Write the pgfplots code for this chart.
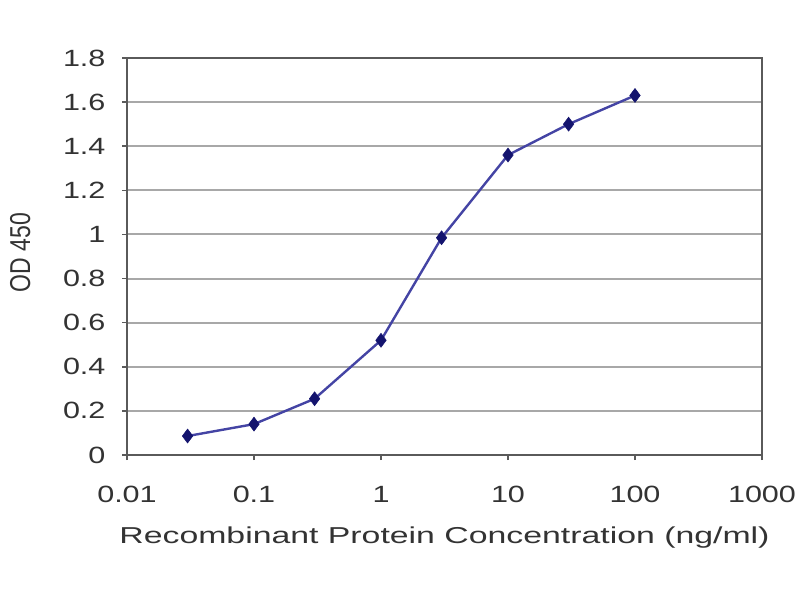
\documentclass[border=0pt]{standalone}
\usepackage{pgfplots}
\pgfplotsset{compat=1.18}
\usepackage{fontspec}
\setmainfont{Liberation Sans}[FakeStretch=1.3]
\newfontfamily\xlabfont{Liberation Sans}[FakeStretch=1.47]
\newfontfamily\ylabfont{Liberation Sans}
\definecolor{txt}{HTML}{333333}
\definecolor{gridc}{HTML}{A8A8A8}
\definecolor{axisc}{HTML}{5A5A5A}
\definecolor{linec}{HTML}{4444A4}
\definecolor{markc}{HTML}{14146E}
\begin{document}
\begin{tikzpicture}[x=1pt,y=1pt]
\path[use as bounding box] (-127,-145) rectangle (673,455);
\begin{axis}[
  at={(0,0)}, anchor=south west,
  scale only axis, width=635pt, height=397pt,
  xmode=log, xmin=0.01, xmax=1000,
  ymin=0, ymax=1.8,
  ytick={0,0.2,0.4,0.6,0.8,1,1.2,1.4,1.6,1.8},
  yticklabels={0,0.2,0.4,0.6,0.8,1,1.2,1.4,1.6,1.8},
  xtick={0.01,0.1,1,10,100,1000},
  xticklabels={0.01,0.1,1,10,100,1000},
  xminorticks=false,
  ymajorgrids,
  major grid style={gridc, line width=2pt},
  axis line style={axisc, line width=2pt},
  tick style={axisc, line width=1.5pt},
  major tick length=5pt,
  tick align=outside,
  xtick pos=bottom, ytick pos=left,
  tick label style={font=\fontsize{23.5}{27}\selectfont, text=txt},
  xticklabel style={anchor=center, yshift=-34pt},
  yticklabel style={anchor=east, xshift=-13pt},
  xlabel={Recombinant Protein Concentration (ng/ml)},
  ylabel={\scalebox{1}[1.25]{OD 450}},
  xlabel style={font=\xlabfont\fontsize{23}{27}\selectfont, text=txt, at={(axis description cs:0.5,-0.207)}, anchor=center},
  ylabel style={font=\ylabfont\fontsize{23}{27}\selectfont, text=txt, at={(axis description cs:-0.168,0.51)}, anchor=center},
]
\addplot[color=linec, line width=2.4pt, mark=diamond*, mark size=7pt,
  mark options={fill=markc, draw=markc, line width=0.5pt}]
  coordinates {
  (0.03,0.086) (0.1,0.14) (0.3,0.255) (1,0.52)
  (3,0.985) (10,1.36) (30,1.50) (100,1.63)
  };
\end{axis}
\end{tikzpicture}
\end{document}
